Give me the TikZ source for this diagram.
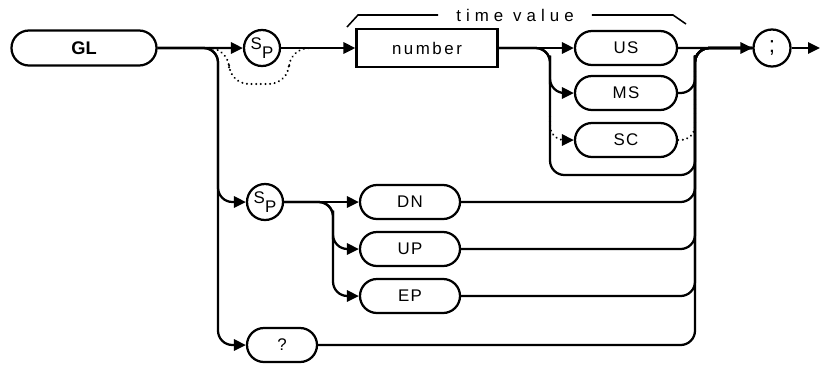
\documentclass[tikz,border=0pt]{standalone}
\usepackage{fontspec}
\setmainfont{Liberation Sans}
\usetikzlibrary{arrows.meta,positioning,shapes.misc,calc}

\newcommand{\sptext}{\raisebox{0.45ex}{S}\raisebox{-0.5ex}{P}}

\begin{document}
\begin{tikzpicture}[
  x=0.025cm, y=-0.025cm,
  pill/.style={draw, line width=1.6pt, rounded rectangle, minimum width=2.55cm, minimum height=0.85cm, inner sep=0pt, font=\fontsize{12}{14}\selectfont\addfontfeature{LetterSpace=8}},
  numbox/.style={draw, line width=1.6pt, rectangle, minimum width=3.525cm, minimum height=0.95cm, inner sep=0pt, font=\fontsize{12}{14}\selectfont\addfontfeature{LetterSpace=15}},
  spc/.style={draw, line width=1.6pt, circle, minimum size=0.9cm, inner sep=0pt, font=\fontsize{12}{14}\selectfont},
  arrow/.style={-{Triangle[length=8.5pt, width=8pt]}, line width=1.6pt, rounded corners=0.36cm},
  link/.style={line width=1.6pt, rounded corners=0.36cm},
  opt/.style={line width=1.5pt, rounded corners=0.36cm, dash pattern=on 0.1pt off 3.2pt, line cap=round},
  brace/.style={line width=1.1pt}
]
\useasboundingbox (0,0) rectangle (820,364);

% nodes
\node[pill, minimum width=3.625cm, minimum height=0.875cm, font=\fontsize{13}{15}\selectfont\bfseries] (gl) at (84,48) {GL};
\node[spc] (sp1) at (262,48) {\sptext};
\node[numbox] (num) at (427,48) {number};
\node[pill] (us) at (626,48) {US};
\node[pill] (ms) at (626,93) {MS};
\node[pill] (sc) at (626,140) {SC};
\node[spc, minimum size=0.925cm, font=\fontsize{16}{18}\selectfont] (semi) at (772,48) {;};
\node[spc] (sp2) at (265,202) {\sptext};
\node[pill, minimum width=2.5cm] (dn) at (410,202) {DN};
\node[pill, minimum width=2.5cm] (up) at (410,249) {UP};
\node[pill, minimum width=2.5cm] (ep) at (410,296) {EP};
\node[pill, minimum width=1.75cm] (qm) at (282,345) {?};

% time value label
\node[inner xsep=0.45cm, inner ysep=0pt, font=\fontsize{12}{14}\selectfont\addfontfeature{LetterSpace=30}] (tv) at (515,15) {time value};
\coordinate (tvl) at (347,27);
\coordinate (tvl2) at (358,15);
\coordinate (tvr2) at (673,15);
\coordinate (tvr) at (686,24);
\draw[brace] (tvl) -- (tvl2) -- (tv.west);
\draw[brace] (tv.east) -- (tvr2) -- (tvr);

% junctions
\coordinate (jl) at (218,150);
\coordinate (jd) at (333,225);
\coordinate (jt) at (550,70);
\coordinate (jb) at (620,175);
\coordinate (jr) at (695,70);
\coordinate (sca) at (550,112);
\coordinate (skipa) at (214,48);
\coordinate (skipb) at (304,48);
\coordinate (out) at (820,48);

% left part
\draw[arrow] (gl) -- (sp1);
\draw[opt, rounded corners=0.5cm] (skipa) -- (229,48) -- (229,84) -- (289,84) -- (289,48) -- (skipb);
\draw[arrow] (sp1) -- (num);
\draw[arrow] (gl.east) -| (jl) |- (sp2.west);
\draw[arrow] (gl.east) -| (jl) |- (qm.west);
\draw[arrow] (sp2) -- (dn);
\draw[arrow] (sp2.east) -| (jd) |- (up.west);
\draw[arrow] (sp2.east) -| (jd) |- (ep.west);

% time units
\draw[arrow] (num) -- (us);
\draw[arrow] (num.east) -| (jt) |- (ms.west);
\draw[opt, -{Triangle[length=8.5pt, width=8pt]}] (sca) |- (sc.west);
\draw[link] (num.east) -| (jt) |- (jb) -| (jr) |- (semi.west);

% merge
\draw[arrow] (us) -- (semi);
\draw[link] (ms.east) -| (jr) |- (semi.west);
\draw[opt] (sc.east) -| (jr);
\draw[link] (dn.east) -| (jr) |- (semi.west);
\draw[link] (up.east) -| (jr) |- (semi.west);
\draw[link] (ep.east) -| (jr) |- (semi.west);
\draw[link] (qm.east) -| (jr) |- (semi.west);
\draw[arrow] (semi) -- (out);
\end{tikzpicture}
\end{document}
